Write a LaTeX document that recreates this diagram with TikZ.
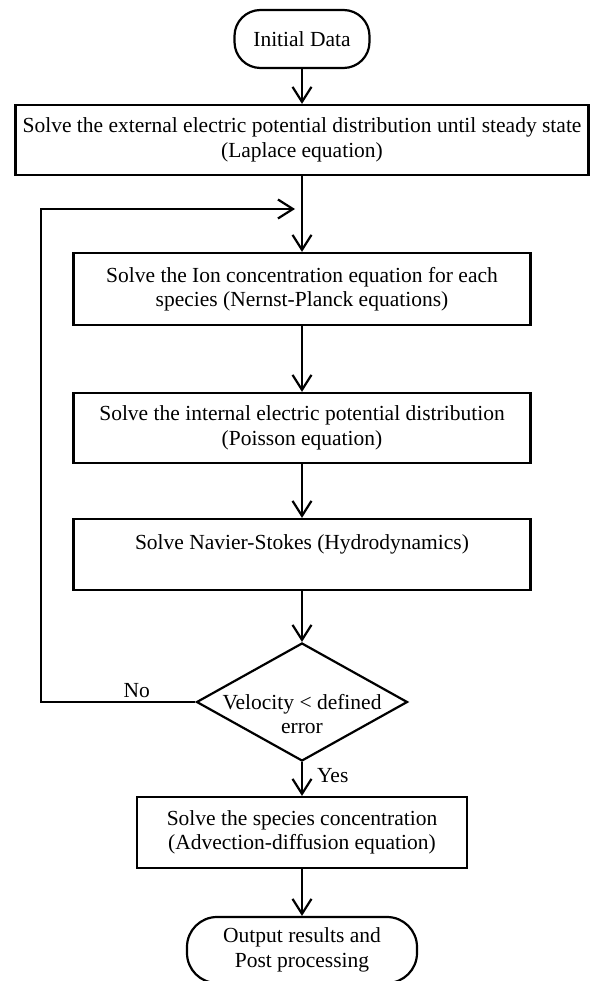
\documentclass[tikz,border=0pt]{standalone}
\usepackage{fontspec}
\setmainfont{Liberation Serif}
\usetikzlibrary{arrows.meta,shapes.geometric}

\begin{document}
\begin{tikzpicture}[x=1pt, y=-1pt, line width=2.2pt,
  font=\fontsize{21.5}{24.5}\selectfont,
  procbox/.style={draw, rectangle, inner sep=0pt, align=center},
  termbox/.style={draw, rectangle, rounded corners=26pt, inner sep=0pt, align=center},
  flow/.style={-{Straight Barb[length=15pt, width=19pt]}}]

 \useasboundingbox (0,0) rectangle (589,981);

  %%%%%%%%%% Start and outer potential %%%%%%%%%%
 \node[termbox, minimum width=135pt, minimum height=58pt] (start) at (302,39) {Initial Data};
 \node[procbox, minimum width=573pt, minimum height=70pt] (laplace) at (302,140)
   {Solve the external electric potential distribution until steady state\\(Laplace equation)};

  %%%%%%%%%% Loop body %%%%%%%%%%
 \node[procbox, minimum width=457pt, minimum height=72pt] (ion) at (302,289)
   {Solve the Ion concentration equation for each\\species (Nernst-Planck equations)};
 \node[procbox, minimum width=457pt, minimum height=70pt] (poisson) at (302,428)
   {Solve the internal electric potential distribution\\(Poisson equation)};
 \node[procbox, minimum width=457pt, minimum height=71pt] (ns) at (302,554.5)
   {Solve Navier-Stokes (Hydrodynamics)\\~};

  %%%%%%%%%% Test %%%%%%%%%%
 \node[draw, diamond, minimum width=211pt, minimum height=118pt, inner sep=0pt,
   label={[align=center, yshift=-12pt]center:{Velocity < defined\\error}}] (check) at (302,702) {};

  %%%%%%%%%% End %%%%%%%%%%
 \node[procbox, minimum width=330pt, minimum height=71pt] (species) at (302,832.5)
   {Solve the species concentration\\(Advection-diffusion equation)};
 \node[termbox, minimum width=230pt, minimum height=66pt, rounded corners=30pt] (output) at (302,950)
   {Output results and\\Post processing};

  % Arrows
 \draw[flow] (start) -- (laplace);
 \draw[flow] (laplace) -- (ion);
 \draw[flow] (ion) -- (poisson);
 \draw[flow] (poisson) -- (ns);
 \draw[flow] (ns) -- (check);
 \draw[flow] (check) -- node[pos=0.4, right, inner sep=2pt, xshift=12pt] {Yes} (species);
 \draw[flow] (species) -- (output);

  % Feedback loop
 \coordinate (back) at (41,209);
 \coordinate (join) at (295,209);
 \draw[flow] (check.west) -| node[pos=0.19, above, inner sep=3pt] {No} (back) -- (join);

\end{tikzpicture}
\end{document}
